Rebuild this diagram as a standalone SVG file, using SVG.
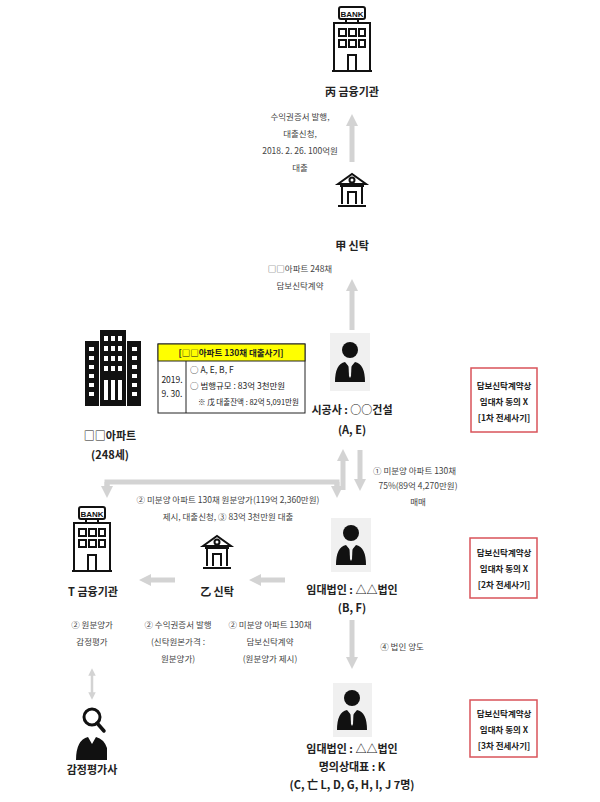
<svg xmlns="http://www.w3.org/2000/svg" width="600" height="802" viewBox="0 0 600 802">
<style>
text{font-family:"Noto Sans CJK KR","Liberation Sans",sans-serif;text-anchor:middle;fill:#222}
.s{font-size:8.5px;fill:#444}
.l{font-size:11px;font-weight:bold}
.r{font-size:8.5px;font-weight:bold}
.c{stroke:#d3d3d3;stroke-width:5;fill:none}
.ic{fill:none;stroke:#111;stroke-width:2}
.rb{fill:#fff;stroke:#d9535a;stroke-width:1.5}
.pb{fill:#f0f0f0}
</style>
<defs>
<marker id="ah" viewBox="0 0 10 10" refX="5" refY="5" markerWidth="2.4" markerHeight="2.4" orient="auto"><path d="M0,0L10,5L0,10z" fill="#d3d3d3"/></marker>
<marker id="ah2" viewBox="0 0 10 10" refX="5" refY="5" markerWidth="3" markerHeight="3" orient="auto-start-reverse"><path d="M0,0L10,5L0,10z" fill="#d3d3d3"/></marker>
<g id="bank"><rect x="7" y="0" width="26" height="12" rx="2" class="ic"/><text x="20" y="9.5" style="font-size:8px;font-weight:bold;fill:#111;font-family:'Liberation Sans Narrow','Liberation Sans',sans-serif">BANK</text><path d="M14,12v4M26,12v4" class="ic"/><rect x="2" y="16" width="36" height="48" class="ic"/><path d="M0,64h40" class="ic"/><rect x="7" y="22" width="7" height="7" class="ic"/><rect x="17" y="22" width="7" height="7" class="ic"/><rect x="27" y="22" width="6" height="7" class="ic"/><rect x="7" y="33" width="7" height="7" class="ic"/><rect x="17" y="33" width="7" height="7" class="ic"/><rect x="27" y="33" width="6" height="7" class="ic"/><rect x="16" y="48" width="8" height="16" class="ic"/></g>
<g id="trust"><path d="M0,12L14,2L28,12z" class="ic" stroke-width="1.5"/><circle cx="14" cy="8" r="2.5" class="ic" stroke-width="1.2"/><path d="M2,14h24M4,15v17M24,15v17M0,34h28M10,32v-12h8v12" class="ic" stroke-width="1.5"/></g>
<g id="person"><circle cx="0" cy="-12" r="8" fill="#111"/><path d="M-15,20Q-15,2 -5,0L0,6L5,0Q15,2 15,20z" fill="#111"/><path d="M-1.5,3L1.5,3L1,14L0,16L-1,14z" fill="#f0f0f0"/></g>
</defs>

<g id="connectors">
<path class="c" d="M352,162V120" marker-end="url(#ah)"/>
<path class="c" d="M352,330V285" marker-end="url(#ah)"/>
<path class="c" d="M343,490V455" marker-end="url(#ah)"/>
<path class="c" d="M360,450V485" marker-end="url(#ah)"/>
<path class="c" d="M107,488V482H337V488" />
<path class="c" d="M107,482V492" marker-end="url(#ah)"/>
<path class="c" d="M337,482V492" marker-end="url(#ah)"/>
<path class="c" d="M285,580H255" marker-end="url(#ah)"/>
<path class="c" d="M175,580H145" marker-end="url(#ah)"/>
<path class="c" d="M352,620V663" marker-end="url(#ah)"/>
<path d="M92,672V696" stroke="#d3d3d3" stroke-width="2.5" marker-start="url(#ah2)" marker-end="url(#ah2)"/>
</g>

<g id="bank-top"><use href="#bank" x="332" y="7"/><text class="l" x="352" y="96">丙 금융기관</text></g>
<text class="s" x="300" y="120">수익권증서 발행,</text>
<text class="s" x="300" y="137">대출신청,</text>
<text class="s" x="300" y="154">2018. 2. 26. 100억원</text>
<text class="s" x="300" y="171">대출</text>

<g id="trust-gap"><use href="#trust" x="338" y="172"/><text class="l" x="352" y="250">甲 신탁</text></g>
<text class="s" x="300" y="272">□□아파트 248채</text>
<text class="s" x="300" y="289">담보신탁계약</text>

<g id="contractor"><rect class="pb" x="330" y="333" width="40" height="58"/><use href="#person" x="350" y="362"/><text class="l" x="352" y="414">시공사 : ○○건설</text><text class="l" x="352" y="434">(A, E)</text></g>

<g id="apt"><rect x="85" y="341" width="14" height="65" fill="#111"/><rect x="100" y="330" width="26" height="76" fill="#111"/><rect x="127" y="341" width="14" height="65" fill="#111"/>
<g fill="#fff"><rect x="89" y="347" width="5" height="4"/><rect x="89" y="356" width="5" height="4"/><rect x="89" y="365" width="5" height="4"/><rect x="89" y="374" width="5" height="4"/><rect x="89" y="383" width="5" height="4"/><rect x="89" y="392" width="5" height="4"/>
<rect x="132" y="347" width="5" height="4"/><rect x="132" y="356" width="5" height="4"/><rect x="132" y="365" width="5" height="4"/><rect x="132" y="374" width="5" height="4"/><rect x="132" y="383" width="5" height="4"/><rect x="132" y="392" width="5" height="4"/>
<rect x="104" y="336" width="4" height="5"/><rect x="111" y="336" width="4" height="5"/><rect x="118" y="336" width="4" height="5"/><rect x="104" y="346" width="4" height="5"/><rect x="111" y="346" width="4" height="5"/><rect x="118" y="346" width="4" height="5"/><rect x="104" y="356" width="4" height="5"/><rect x="111" y="356" width="4" height="5"/><rect x="118" y="356" width="4" height="5"/><rect x="104" y="366" width="4" height="5"/><rect x="111" y="366" width="4" height="5"/><rect x="118" y="366" width="4" height="5"/><rect x="104" y="380" width="4" height="20"/><rect x="111" y="380" width="4" height="20"/><rect x="118" y="380" width="4" height="20"/></g>
<text class="l" x="110" y="440">□□아파트</text><text class="l" x="110" y="459">(248세)</text></g>

<g id="summary"><rect x="158" y="344" width="147" height="69" fill="#fff" stroke="#222"/><rect x="158" y="344" width="147" height="17" fill="#ffff00" stroke="#222"/><path d="M186,361V413" stroke="#222"/>
<text x="231" y="356" style="font-size:8.5px;font-weight:bold">[□□아파트 130채 대출사기]</text>
<text class="s" x="172" y="383" style="fill:#222">2019.</text><text class="s" x="172" y="397" style="fill:#222">9. 30.</text>
<text class="s" x="190" y="373" style="text-anchor:start;fill:#222">○ A, E, B, F</text>
<text class="s" x="190" y="389" style="text-anchor:start;fill:#222">○ 범행규모 : 83억 3천만원</text>
<text class="s" x="198" y="405" style="text-anchor:start;fill:#222;font-size:7.5px">※ 戊 대출잔액 : 82억 5,091만원</text></g>

<g id="note1"><rect class="rb" x="471" y="368" width="66" height="64"/><text class="r" x="504" y="389">담보신탁계약상</text><text class="r" x="504" y="405">임대차 동의 X</text><text class="r" x="504" y="421">[1차 전세사기]</text></g>

<text class="s" x="373" y="474" style="text-anchor:start">① 미분양 아파트 130채</text>
<text class="s" x="418" y="489">75%(89억 4,270만원)</text>
<text class="s" x="418" y="505">매매</text>

<text class="s" x="228" y="503">② 미분양 아파트 130채 원분양가(119억 2,360만원)</text>
<text class="s" x="228" y="520">제시, 대출신청, ③ 83억 3천만원 대출</text>

<g id="bank-t"><use href="#bank" x="72" y="507"/><text class="l" x="93" y="596">T 금융기관</text></g>
<g id="trust-z"><use href="#trust" x="203" y="534"/><text class="l" x="217" y="596">乙 신탁</text></g>

<g id="lessor"><rect class="pb" x="331" y="518" width="40" height="54"/><use href="#person" x="351" y="545"/><text class="l" x="352" y="594">임대법인 : △△법인</text><text class="l" x="352" y="612">(B, F)</text></g>
<g id="note2"><rect class="rb" x="470" y="538" width="67" height="60"/><text class="r" x="504" y="556">담보신탁계약상</text><text class="r" x="504" y="572">임대차 동의 X</text><text class="r" x="504" y="588">[2차 전세사기]</text></g>

<text class="s" x="92" y="628">② 원분양가</text><text class="s" x="92" y="645">감정평가</text>
<text class="s" x="178" y="628">② 수익권증서 발행</text><text class="s" x="178" y="645">(신탁원본가격 :</text><text class="s" x="178" y="662">원분양가)</text>
<text class="s" x="270" y="628">② 미분양 아파트 130채</text><text class="s" x="270" y="645">담보신탁계약</text><text class="s" x="270" y="662">(원분양가 제시)</text>
<text class="s" x="402" y="650">④ 법인 양도</text>

<g id="appraiser"><circle cx="92" cy="717" r="8" fill="#fff" stroke="#111" stroke-width="3"/><path d="M97,723L104,731" stroke="#111" stroke-width="3.5" stroke-linecap="round"/><path d="M76,760Q76,740 88,737L92,744L96,737Q104,739 107,748V760z" fill="#111"/><text class="l" x="92" y="774">감정평가사</text></g>

<g id="lessor2"><rect class="pb" x="333" y="683" width="39" height="54"/><use href="#person" x="352" y="710"/><text class="l" x="352" y="753">임대법인 : △△법인</text><text class="l" x="352" y="771">명의상대표 : K</text><text class="l" x="352" y="789">(C, 亡 L, D, G, H, I, J 7명)</text></g>
<g id="note3"><rect class="rb" x="470" y="700" width="67" height="57"/><text class="r" x="504" y="717">담보신탁계약상</text><text class="r" x="504" y="733">임대차 동의 X</text><text class="r" x="504" y="749">[3차 전세사기]</text></g>
</svg>
